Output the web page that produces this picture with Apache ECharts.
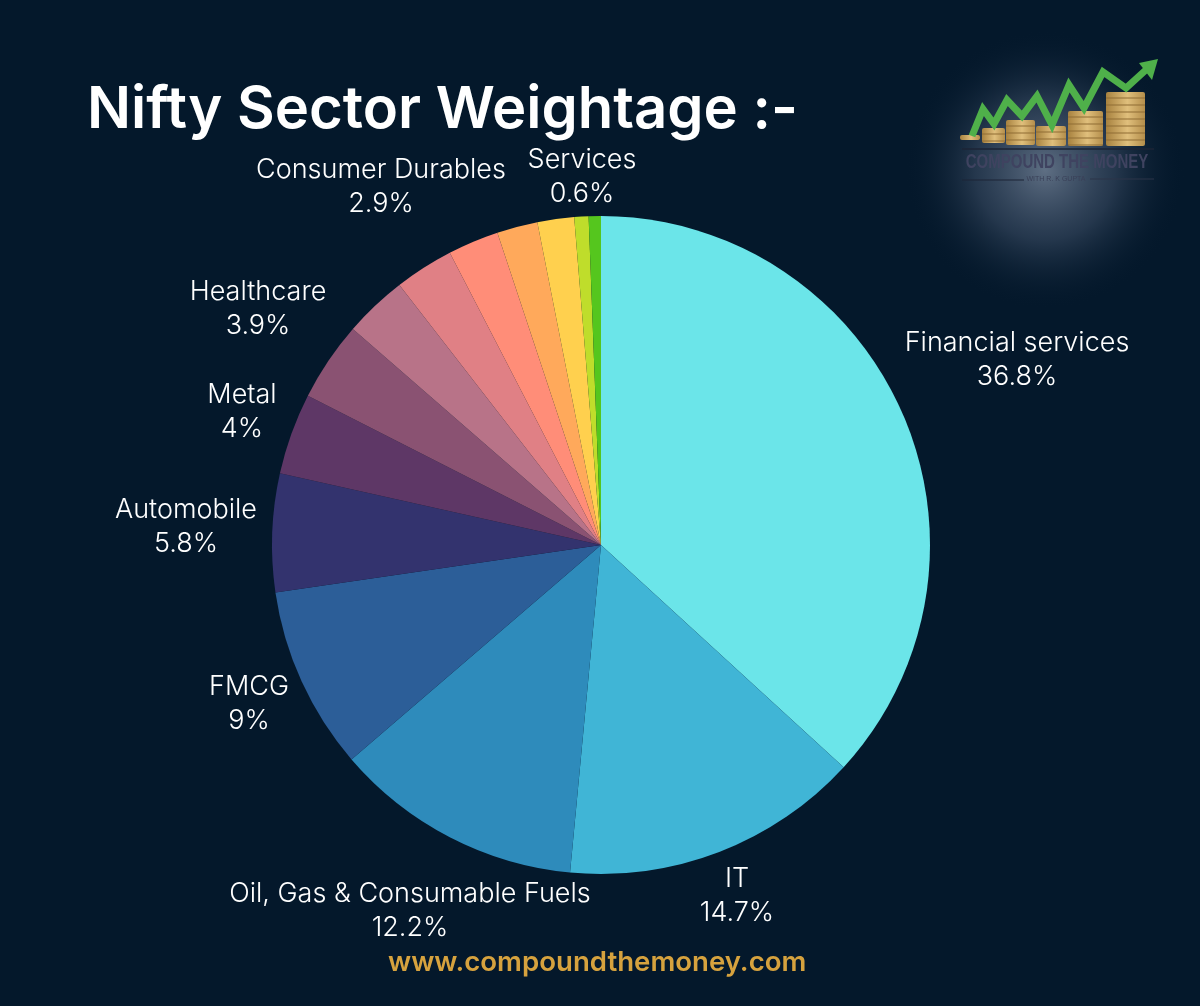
<!DOCTYPE html>
<html>
<head>
<meta charset="utf-8">
<style>
    html, body { margin: 0; padding: 0; background: #04182b; }
    #chart { width: 1200px; height: 1006px; }
</style>
<script src="https://cdn.jsdelivr.net/npm/echarts@6/dist/echarts.min.js"></script>
</head>
<body>
<div id="chart"></div>
<script>
// slices without a name in the picture have no label
var sectorNames = ['Financial services', 'IT', 'Oil, Gas & Consumable Fuels', 'FMCG', 'Automobile', 'Metal', 'Healthcare',
    'Unlabelled A', 'Consumer Durables', 'Unlabelled B', 'Unlabelled C', 'Unlabelled D', 'Unlabelled E', 'Services'];
var sectorValues = [36.8, 14.7, 12.2, 9, 5.8, 4, 3.9, 3.1, 2.9, 2.5, 2.0, 1.8, 0.7, 0.6];
var sectorColors = ['#6be5e9', '#40b5d6', '#2e8bbb', '#2c5e98', '#33336e', '#5e3766', '#8a5272',
    '#b87388', '#e08085', '#ff8d78', '#ffa95b', '#ffd04e', '#bfdd2b', '#55c61e'];

// label centres, by sector name
var labelCenters = {
    'Financial services': [1017, 360],
    'IT': [737, 896],
    'Oil, Gas & Consumable Fuels': [410, 911],
    'FMCG': [249, 704],
    'Automobile': [186, 527],
    'Metal': [242, 412],
    'Healthcare': [258, 309],
    'Consumer Durables': [381, 187],
    'Services': [582, 177]
};

var coinStacks = [[960, 135, 20, 5], [982, 128, 23, 15], [1006, 120, 29, 25], [1036, 126, 30, 20], [1068, 111, 35, 35], [1106, 92, 39, 54]];
var arrowPoints = [[972, 136], [983, 109], [994, 124], [1007, 100], [1022, 116], [1037, 96], [1052, 125], [1069, 85], [1084, 108], [1103, 72], [1126, 88], [1148, 68]];

function logoGraphics() {
    var items = [{
        type: 'circle',
        shape: { cx: 1045, cy: 170, r: 140 },
        style: {
            fill: {
                type: 'radial', x: 0.5, y: 0.5, r: 0.5,
                colorStops: [
                    { offset: 0, color: 'rgba(150,164,186,0.62)' },
                    { offset: 0.5, color: 'rgba(90,106,132,0.38)' },
                    { offset: 1, color: 'rgba(4,24,43,0)' }
                ]
            }
        }
    }];
    coinStacks.forEach(function (s) {
        items.push({
            type: 'rect',
            shape: { x: s[0], y: s[1], width: s[2], height: s[3], r: 2 },
            style: {
                fill: {
                    type: 'linear', x: 0, y: 0, x2: 1, y2: 0,
                    colorStops: [
                        { offset: 0, color: '#a8823f' },
                        { offset: 0.55, color: '#e0bf7c' },
                        { offset: 1, color: '#b48e4b' }
                    ]
                }
            }
        });
        for (var y = s[1] + 6; y < s[1] + s[3]; y += 7) {
            items.push({ type: 'line', shape: { x1: s[0], y1: y, x2: s[0] + s[2], y2: y }, style: { stroke: '#8f6c35', lineWidth: 1 } });
        }
    });
    items.push({ type: 'polyline', shape: { points: arrowPoints }, style: { stroke: '#4fb04a', lineWidth: 7, fill: null, lineJoin: 'miter' } });
    items.push({ type: 'polygon', shape: { points: [[1158, 59], [1139, 63], [1152, 80]] }, style: { fill: '#4fb04a' } });
    items.push({ type: 'line', shape: { x1: 962, y1: 149, x2: 1154, y2: 149 }, style: { stroke: '#1c2436', lineWidth: 1.5 } });
    items.push({
        type: 'text', x: 1057, y: 162, scaleY: 1.4,
        style: { text: 'COMPOUND THE MONEY', fill: '#3f4360', font: 'bold 15px "Liberation Sans"', align: 'center', verticalAlign: 'middle' }
    });
    items.push({
        type: 'text', x: 1056, y: 179,
        style: { text: 'WITH R. K GUPTA', fill: '#3a4058', font: '7px "Liberation Sans"', align: 'center', verticalAlign: 'middle' }
    });
    items.push({ type: 'line', shape: { x1: 962, y1: 180, x2: 1024, y2: 180 }, style: { stroke: '#1c2436', lineWidth: 1 } });
    items.push({ type: 'line', shape: { x1: 1090, y1: 179, x2: 1154, y2: 179 }, style: { stroke: '#2c3448', lineWidth: 1 } });
    return items;
}

var myChart = echarts.init(document.getElementById('chart'));
var option = {
    backgroundColor: '#04182b',
    animation: false,
    title: [{
        text: 'Nifty Sector Weightage :-',
        left: 87,
        top: 82,
        padding: 0,
        textStyle: { color: '#ffffff', fontFamily: 'Inter', fontWeight: 600, fontSize: 58 }
    }, {
        text: 'www.compoundthemoney.com',
        left: 388,
        top: 949,
        padding: 0,
        textStyle: { color: '#d6a23e', fontFamily: 'Inter', fontWeight: 600, fontSize: 27.6 }
    }],
    graphic: logoGraphics(),
    series: [{
        type: 'pie',
        center: [601, 545],
        radius: [0, 329],
        startAngle: 90,
        clockwise: true,
        silent: true,
        label: {
            show: true,
            position: 'outside',
            formatter: '{b}\n{c}%',
            color: '#ffffff',
            fontFamily: 'Inter',
            fontWeight: 300,
            fontSize: 27,
            lineHeight: 34,
            align: 'center'
        },
        labelLine: { show: false },
        labelLayout: function (params) {
            var pos = labelCenters[sectorNames[params.dataIndex]];
            return pos ? { x: pos[0], y: pos[1], align: 'center', verticalAlign: 'middle' } : {};
        },
        data: sectorNames.map(function (name, i) {
            return {
                name: name,
                value: sectorValues[i],
                itemStyle: { color: sectorColors[i] },
                label: { show: !!labelCenters[name] }
            };
        })
    }]
};
myChart.setOption(option);
</script>
</body>
</html>
